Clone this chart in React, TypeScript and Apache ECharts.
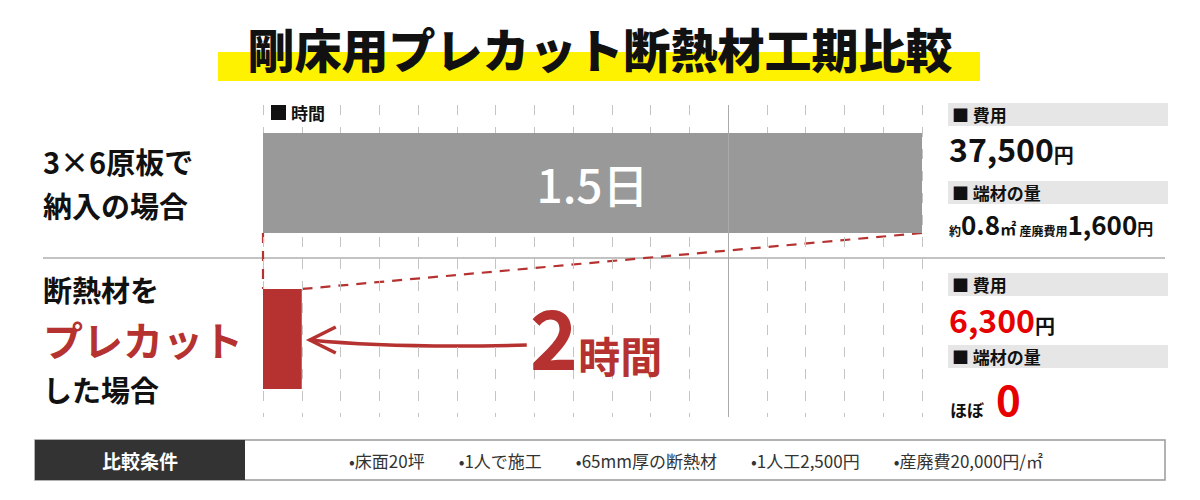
import React, { useEffect, useRef } from "react";
import * as echarts from "echarts";

const FONT = "'Noto Sans CJK JP', 'Noto Sans', sans-serif";

const titleText = "剛床用プレカット断熱材工期比較";
const categoryLines = [
  ["3×6原板で", "納入の場合"],
  ["断熱材を", "プレカット", "した場合"],
];
const categories = ["3×6原板で納入の場合", "断熱材をプレカットした場合"];
const durationHours = [34, 2];
const durationLabels = ["1.5日", "2時間"];
const axisMax = 34;
const tickStep = 2;
const dayMark = 24;
const costValues = ["37,500", "6,300"];
const scrapArea = "0.8";
const scrapCost = "1,600";
const conditionItems = ["床面20坪", "1人で施工", "65mm厚の断熱材", "1人工2,500円", "産廃費20,000円/㎡"];

const RED = "#b53230";
const BRIGHT = "#e60000";

export default function App() {
  const ref = useRef<HTMLDivElement>(null);
  useEffect(() => {
    if (!ref.current) return;
    const chart = echarts.init(ref.current, undefined, { renderer: "svg" });

    const header = (y: number, text: string) => [
      { type: "rect", shape: { x: 948, y, width: 220, height: 23 }, style: { fill: "#e6e6e6" } },
      {
        type: "text",
        x: 952,
        y: y + 11,
        style: { text, fontSize: 17, fontWeight: "bold", fill: "#111", verticalAlign: "middle", fontFamily: FONT },
      },
    ];

    const staticGraphics: any[] = [
      { type: "rect", z: 0, shape: { x: 218, y: 52, width: 762, height: 29 }, style: { fill: "#fff200" } },
      { type: "line", shape: { x1: 43, y1: 258, x2: 1165, y2: 258 }, style: { stroke: "#888", lineWidth: 1.2 } },
      ...header(103, "■ 費用"),
      {
        type: "text",
        x: 949,
        y: 148,
        style: {
          text: `{d|${costValues[0]}}{u|円}`,
          verticalAlign: "middle",
          rich: {
            d: { fontSize: 32, fontWeight: 600, fill: "#111", fontFamily: FONT, verticalAlign: "bottom", lineHeight: 32 },
            u: { fontSize: 20, fontWeight: "bold", fill: "#111", fontFamily: FONT, verticalAlign: "bottom", lineHeight: 24 },
          },
        },
      },
      ...header(181, "■ 端材の量"),
      {
        type: "text",
        x: 949,
        y: 223,
        style: {
          text: `{s|約}{d|${scrapArea}}{m|㎡} {s|産廃費用}{d|${scrapCost}}{m|円}`,
          verticalAlign: "middle",
          rich: {
            s: { fontSize: 12, fontWeight: "bold", fill: "#111", fontFamily: FONT, verticalAlign: "bottom", lineHeight: 16 },
            d: { fontSize: 26, fontWeight: 600, fill: "#111", fontFamily: FONT, verticalAlign: "bottom", lineHeight: 26 },
            m: { fontSize: 16, fontWeight: "bold", fill: "#111", fontFamily: FONT, verticalAlign: "bottom", lineHeight: 19 },
          },
        },
      },
      ...header(273, "■ 費用"),
      {
        type: "text",
        x: 949,
        y: 319,
        style: {
          text: `{d|${costValues[1]}}{u|円}`,
          verticalAlign: "middle",
          rich: {
            d: { fontSize: 32, fontWeight: 600, fill: BRIGHT, fontFamily: FONT, verticalAlign: "bottom", lineHeight: 32 },
            u: { fontSize: 20, fontWeight: "bold", fill: "#111", fontFamily: FONT, verticalAlign: "bottom", lineHeight: 24 },
          },
        },
      },
      ...header(345, "■ 端材の量"),
      {
        type: "text",
        x: 950,
        y: 393,
        style: {
          text: `{s|ほぼ}{z|0}`,
          verticalAlign: "middle",
          rich: {
            s: { fontSize: 17, fontWeight: "bold", fill: "#111", fontFamily: FONT, verticalAlign: "bottom", lineHeight: 30 },
            z: { fontSize: 42, fontWeight: 600, fill: BRIGHT, fontFamily: FONT, verticalAlign: "bottom", lineHeight: 50, padding: [0, 0, 0, 12] },
          },
        },
      },
      { type: "rect", shape: { x: 35, y: 440, width: 1130, height: 40 }, style: { fill: "#fff", stroke: "#999", lineWidth: 1.5 } },
      { type: "rect", shape: { x: 35, y: 440, width: 210, height: 40 }, style: { fill: "#333" } },
      {
        type: "text",
        x: 140,
        y: 460,
        style: { text: "比較条件", fontSize: 19, fontWeight: "bold", fill: "#fff", align: "center", verticalAlign: "middle", fontFamily: FONT },
      },
      {
        type: "text",
        x: 696,
        y: 460,
        style: {
          text: conditionItems.map((c) => "•" + c).join("　　"),
          fontSize: 17,
          fill: "#333",
          align: "center",
          verticalAlign: "middle",
          fontFamily: FONT,
        },
      },
    ];

    const option: any = {
      animation: false,
      textStyle: { fontFamily: FONT },
      title: {
        text: titleText,
        left: "center",
        top: 22,
        padding: 0,
        z: 10,
        textStyle: { fontSize: 47, fontWeight: 900, color: "#111", lineHeight: 50, fontFamily: FONT },
      },
      legend: {
        data: ["時間"],
        left: 268,
        top: 102,
        icon: "rect",
        itemWidth: 15,
        itemHeight: 15,
        padding: [2, 3],
        backgroundColor: "#fff",
        textStyle: { fontSize: 17, fontWeight: "bold", color: "#111", fontFamily: FONT },
      },
      grid: { left: 263, right: 278, top: 105, bottom: 83 },
      xAxis: {
        type: "value",
        min: 0,
        max: axisMax,
        interval: tickStep,
        axisLabel: { show: false },
        axisLine: { show: false },
        axisTick: { show: false },
        splitLine: { show: true, lineStyle: { color: "#c4c4c4", width: 1, type: [10, 12] } },
      },
      yAxis: {
        type: "category",
        data: categories,
        inverse: true,
        axisLine: { show: false },
        axisTick: { show: false },
        splitLine: { show: false },
        axisLabel: {
          margin: 220,
          align: "left",
          formatter: (_v: string, i: number) =>
            categoryLines[i].map((l) => (l === "プレカット" ? `{r|${l}}` : `{n|${l}}`)).join("\n"),
          rich: {
            n: { fontSize: 29, fontWeight: "bold", color: "#111", lineHeight: 44, fontFamily: FONT },
            r: { fontSize: 40, fontWeight: "bold", color: RED, lineHeight: 56, fontFamily: FONT },
          },
        },
      },
      graphic: { elements: staticGraphics },
      series: [
        {
          type: "bar",
          name: "時間",
          barWidth: 100,
          itemStyle: { color: "#111" },
          data: durationHours.map((v, i) => ({
            value: v,
            itemStyle: { color: i === 0 ? "#999999" : RED },
            label:
              i === 0
                ? {
                    show: true,
                    position: "inside",
                    formatter: durationLabels[0],
                    color: "#fff",
                    fontSize: 46,
                    fontWeight: 500,
                    fontFamily: FONT,
                  }
                : {
                    show: true,
                    position: "right",
                    distance: 228,
                    offset: [0, -4],
                    formatter: `{a|2}{b|時間}`,
                    rich: {
                      a: { fontSize: 82, fontWeight: "bold", color: RED, fontFamily: FONT, verticalAlign: "bottom", lineHeight: 80 },
                      b: { fontSize: 42, fontWeight: "bold", color: RED, fontFamily: FONT, verticalAlign: "bottom", lineHeight: 60 },
                    },
                  },
          })),
          markLine: {
            silent: true,
            symbol: "none",
            label: { show: false },
            lineStyle: { type: "solid", color: "#aaa", width: 1 },
            data: [{ xAxis: dayMark }],
          },
        },
      ],
    };
    chart.setOption(option);

    const half = 50;
    const topRow = chart.convertToPixel({ gridIndex: 0 } as any, [durationHours[0], 0]) as number[];
    const botRow = chart.convertToPixel({ gridIndex: 0 } as any, [durationHours[1], 1]) as number[];
    const origin = chart.convertToPixel({ gridIndex: 0 } as any, [0, 1]) as number[];
    const grayBottom = topRow[1] + half;
    const redTop = botRow[1] - half;
    const xr = botRow[0];
    const cy = botRow[1];
    const dash = { stroke: RED, lineWidth: 2.2, lineDash: [10, 8] };
    const dynamic: any[] = [
      { type: "line", shape: { x1: origin[0], y1: grayBottom, x2: origin[0], y2: redTop }, style: { ...dash } },
      { type: "line", shape: { x1: topRow[0], y1: grayBottom, x2: xr, y2: redTop }, style: { ...dash } },
      {
        type: "bezierCurve",
        shape: { x1: xr + 8, y1: cy + 1, cpx1: xr + 80, cpy1: cy + 8, cpx2: xr + 150, cpy2: cy + 8, x2: xr + 225, y2: cy + 6 },
        style: { stroke: RED, lineWidth: 3.5, fill: "none" },
      },
      {
        type: "polyline",
        shape: { points: [[xr + 34, cy - 12], [xr + 8, cy + 1], [xr + 34, cy + 14]] },
        style: { stroke: RED, lineWidth: 3.5, fill: "none" },
      },
    ];
    chart.setOption({ graphic: { elements: [...staticGraphics, ...dynamic] } });

    return () => chart.dispose();
  }, []);
  return <div ref={ref} style={{ position: "absolute", left: 0, top: 0, width: 1200, height: 500 }} />;
}
